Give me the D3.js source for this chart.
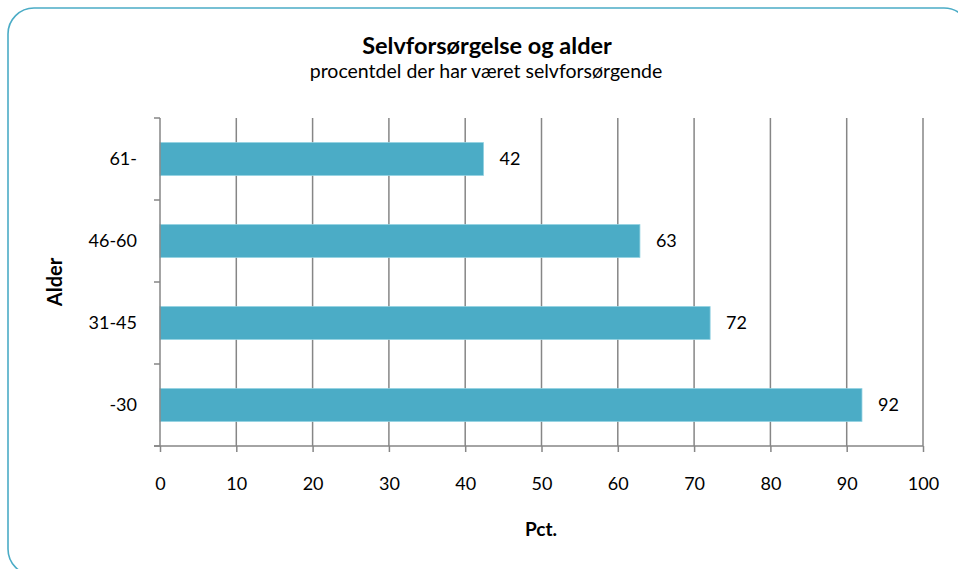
<!DOCTYPE html>
<html><head><meta charset="utf-8">
<script src="https://cdn.jsdelivr.net/npm/d3@7"></script>
<style>body{margin:0;background:#fff;} svg{display:block;font-family:Lato,"Liberation Sans",sans-serif;}</style>
</head><body>
<svg id="c" width="958" height="569"></svg>
<script>
const categories = ["-30", "31-45", "46-60", "61-"];
const values = [92.0, 72.1, 62.9, 42.4];
const xTicks = [0, 10, 20, 30, 40, 50, 60, 70, 80, 90, 100];
const title = "Selvforsørgelse og alder";
const subtitle = "procentdel der har været selvforsørgende";
const xLabel = "Pct.";
const yLabel = "Alder";

const svg = d3.select("#c");
const L = 160, R = 923, T = 118, B = 446;
const grey = "#868686", barColor = "#4BACC6";

svg.append("rect").attr("x", 8).attr("y", 8).attr("width", 962).attr("height", 567)
  .attr("rx", 26).attr("fill", "#fff").attr("stroke", "#4BACC6").attr("stroke-width", 1.6);

const x = d3.scaleLinear().domain([0, 100]).range([L, R]);
const y = d3.scaleBand().domain(categories.slice().reverse()).range([T, B]).paddingInner(0.6).paddingOuter(0.3);
const yb = d3.scaleBand().domain(categories.slice().reverse()).range([T, B]);

// gridlines
svg.append("g").selectAll("line").data(xTicks.filter(d => d > 0)).join("line")
  .attr("x1", d => x(d)).attr("x2", d => x(d)).attr("y1", T).attr("y2", B)
  .attr("stroke", grey).attr("stroke-width", 1.5);

// bars
svg.append("g").selectAll("rect").data(categories).join("rect")
  .attr("x", x(0)).attr("y", d => y(d)).attr("width", (d, i) => x(values[i]) - x(0)).attr("height", y.bandwidth())
  .attr("fill", barColor).attr("stroke", "#8fd0e0").attr("stroke-width", 0.8);

// x axis
const xa = svg.append("g").attr("transform", `translate(0,${B})`)
  .call(d3.axisBottom(x).tickValues(xTicks).tickSize(6).tickPadding(25).tickFormat(d3.format("d")));
xa.select(".domain").attr("stroke", grey).attr("stroke-width", 1.5).attr("d", `M${L - 6},0H${R}`);
xa.selectAll(".tick line").attr("stroke", grey).attr("stroke-width", 1.5);
xa.selectAll(".tick text").attr("font-size", 18).attr("fill", "#000").attr("font-family", "Lato");

// y axis
const ya = svg.append("g").attr("transform", `translate(${L},0)`)
  .call(d3.axisLeft(yb).tickSize(0).tickPadding(23));
ya.select(".domain").attr("stroke", grey).attr("stroke-width", 1.5).attr("d", `M0,${T}V${B}`);
ya.selectAll(".tick text").attr("font-size", 18).attr("fill", "#000").attr("font-family", "Lato");
// y tick marks at band boundaries
const bounds = categories.map(c => yb(c)).concat([B]);
svg.append("g").selectAll("line").data(bounds).join("line")
  .attr("x1", L - 6).attr("x2", L).attr("y1", d => d).attr("y2", d => d)
  .attr("stroke", grey).attr("stroke-width", 1.5);

// value labels
svg.append("g").selectAll("text").data(categories).join("text")
  .attr("x", (d, i) => x(values[i]) + 16).attr("y", d => y(d) + y.bandwidth() / 2)
  .attr("dy", "0.35em").attr("font-size", 18).text((d, i) => d3.format(".0f")(values[i]));

// titles
svg.append("text").attr("x", 487).attr("y", 54).attr("text-anchor", "middle")
  .attr("font-size", 23.5).attr("font-weight", "bold").text(title);
svg.append("text").attr("x", 486).attr("y", 78).attr("text-anchor", "middle")
  .attr("font-size", 19.5).text(subtitle);
svg.append("text").attr("x", 541).attr("y", 536).attr("text-anchor", "middle")
  .attr("font-size", 19).attr("font-weight", "bold").text(xLabel);
svg.append("text").attr("transform", `translate(62,${(T + B) / 2}) rotate(-90)`).attr("text-anchor", "middle")
  .attr("font-size", 20).attr("font-weight", "bold").text(yLabel);
</script>
</body></html>
